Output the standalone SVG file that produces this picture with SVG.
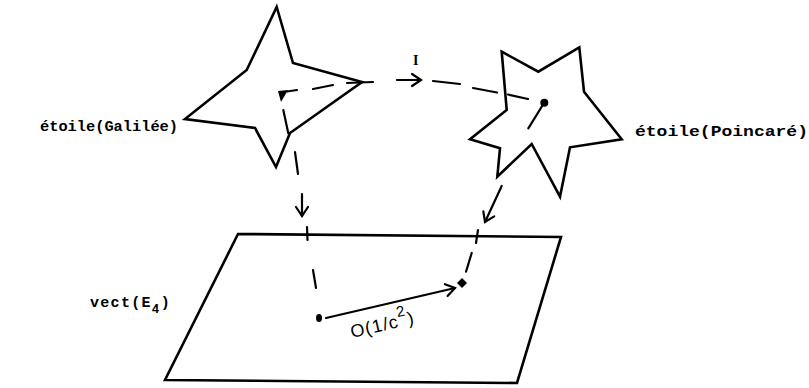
<svg xmlns="http://www.w3.org/2000/svg" width="809" height="388" viewBox="0 0 809 388">
<defs>
<style>
.shape{fill:none;stroke:#000;stroke-width:2.6;stroke-linejoin:miter;stroke-linecap:round}
.ln{fill:none;stroke:#000;stroke-width:2.2;stroke-linecap:round}
.lbl{font-family:"Liberation Mono","DejaVu Sans Mono",monospace;font-weight:bold;font-size:15px;fill:#000}
.math{font-family:"Liberation Sans","DejaVu Sans",sans-serif;fill:#000}
</style>
<marker id="vee" markerUnits="userSpaceOnUse" markerWidth="20" markerHeight="20" refX="0" refY="0" viewBox="-12 -10 14 20" orient="auto" overflow="visible">
<path d="M-9,-6 L0,0 L-9,6" fill="none" stroke="#000" stroke-width="2.2" stroke-linecap="round" stroke-linejoin="miter"/>
</marker>
</defs>
<rect width="809" height="388" fill="#fff"/>

<g id="galilee">
<polygon class="shape" points="276.7,7 293,63 362,82 290,133 276,167 255,128 185,119 246.7,70"/>
<path d="M278,91 L288,90 L281,102 Z" fill="#000"/>
<text class="lbl" x="40" y="131" textLength="138" lengthAdjust="spacingAndGlyphs">étoile(Galilée)</text>
</g>

<g id="poincare">
<polygon class="shape" points="501.7,51.7 538.3,71.7 579.3,47.3 584,91.7 621.7,139.3 570,147.3 560,196.7 531.7,144 497.3,176.7 500,148.3 470,139.3 506.7,110"/>
<circle cx="544.3" cy="102.7" r="4" fill="#000"/>
<line class="ln" x1="544" y1="103" x2="528.3" y2="128.3"/>
<text class="lbl" x="635" y="136" textLength="173" lengthAdjust="spacingAndGlyphs">étoile(Poincaré)</text>
</g>

<g id="plane">
<polygon class="shape" points="238,234 561,237 517,383 165,380"/>
<text class="lbl" x="90" y="307" font-size="16.5" letter-spacing="1.3">vect(E<tspan font-size="12.5" dy="6">4</tspan><tspan dy="-6">)</tspan></text>
<ellipse cx="319" cy="318" rx="3" ry="4" fill="#000"/>
<path d="M457,283 L462,278 L467,283 L462,288 Z" fill="#000"/>
</g>

<g id="connectors">
<line class="ln" x1="287" y1="91.5" x2="297" y2="90"/>
<line class="ln" x1="313" y1="89" x2="333" y2="85"/>
<line class="ln" x1="347" y1="83" x2="373" y2="82"/>
<line class="ln" x1="397" y1="80" x2="421" y2="80" marker-end="url(#vee)"/>
<line class="ln" x1="433" y1="81" x2="460" y2="84"/>
<line class="ln" x1="473" y1="88" x2="497" y2="92.5"/>
<line class="ln" x1="508" y1="94.5" x2="528" y2="99"/>
<text x="413" y="65" font-family="Liberation Serif, serif" font-weight="bold" font-size="14" fill="#000">I</text>

<line class="ln" x1="283.3" y1="110" x2="288.3" y2="133.3"/>
<line class="ln" x1="295" y1="152" x2="298" y2="174"/>
<line class="ln" x1="302" y1="194" x2="302" y2="216" marker-end="url(#vee)"/>
<line class="ln" x1="307" y1="227" x2="307.5" y2="240"/>
<line class="ln" x1="313" y1="270" x2="316" y2="288"/>

<line class="ln" x1="501.7" y1="186" x2="485" y2="222" marker-end="url(#vee)"/>
<line class="ln" x1="478" y1="230" x2="476" y2="243"/>
<line class="ln" x1="471.7" y1="253" x2="466" y2="271.7"/>

<line class="ln" x1="326" y1="318" x2="455" y2="288" marker-end="url(#vee)"/>
<text class="math" transform="translate(352,338) rotate(-13)" font-size="18" letter-spacing="1">O(1/c<tspan font-size="15" dy="-10">2</tspan><tspan dy="10">)</tspan></text>
</g>
</svg>
